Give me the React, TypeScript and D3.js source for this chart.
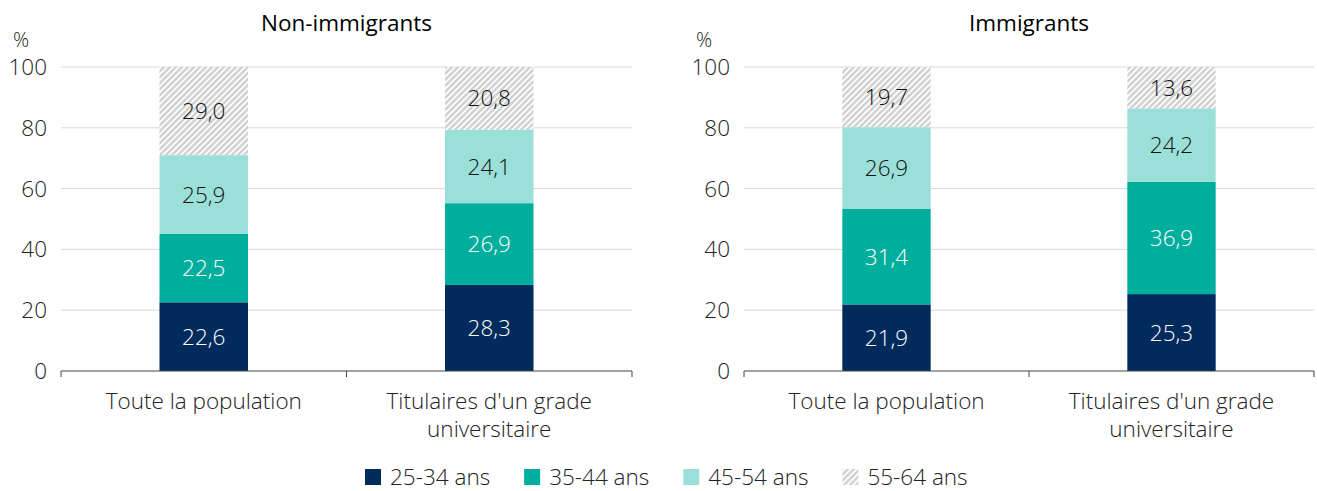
import { useRef, useEffect } from 'react';
import * as d3 from 'd3';

const categories = ['Toute la population', "Titulaires d'un grade universitaire"];
const ageGroups = ['25-34 ans', '35-44 ans', '45-54 ans', '55-64 ans'];
const panelTitles = ['Non-immigrants', 'Immigrants'];
// values per category, in age group order
const nonImmigrants = [
  [22.6, 22.5, 25.9, 29.0],
  [28.3, 26.9, 24.1, 20.8],
];
const immigrants = [
  [21.9, 31.4, 26.9, 19.7],
  [25.3, 36.9, 24.2, 13.6],
];
const yTicks = [0, 20, 40, 60, 80, 100];

const colors = ['#002b5c', '#00ae9d', '#9be0d8', 'url(#hatch)'];
const labelColors = ['#fff', '#fff', '#111', '#111'];
const FONT = "'Open Sans', 'Noto Sans', sans-serif";
const FS = 22.5;

export default function App() {
  const svgRef = useRef(null);
  const width = 1317, height = 491;

  useEffect(() => {
    const svg = d3.select(svgRef.current);
    svg.selectAll('*').remove();
    svg.attr('width', width).attr('height', height)
      .style('font-family', FONT).style('font-weight', 300);

    const defs = svg.append('defs');
    const pat = defs.append('pattern')
      .attr('id', 'hatch')
      .attr('patternUnits', 'userSpaceOnUse')
      .attr('width', 6).attr('height', 6);
    pat.append('rect').attr('width', 6).attr('height', 6).attr('fill', '#d2d2d2');
    pat.append('path')
      .attr('d', 'M-1,1 l2,-2 M0,6 l6,-6 M5,7 l2,-2')
      .attr('stroke', '#fff').attr('stroke-width', 1.6);

    const y = d3.scaleLinear().domain([0, 100]).range([371, 67]);
    const panels = [
      { title: panelTitles[0], data: nonImmigrants, x0: 61, x1: 632 },
      { title: panelTitles[1], data: immigrants, x0: 744, x1: 1314 },
    ];

    panels.forEach((p) => {
      const g = svg.append('g');
      const x = d3.scaleBand().domain(categories).range([p.x0, p.x1]).paddingInner(0.69).paddingOuter(0.345);

      // gridlines
      g.selectAll('line.grid')
        .data(yTicks.filter((t) => t > 0))
        .join('line')
        .attr('x1', p.x0).attr('x2', p.x1)
        .attr('y1', (d) => y(d)).attr('y2', (d) => y(d))
        .attr('stroke', '#d9d9d9').attr('stroke-width', 1);

      // y tick labels
      g.selectAll('text.ytick')
        .data(yTicks)
        .join('text')
        .attr('x', p.x0 - 14)
        .attr('y', (d) => y(d) + 8)
        .attr('text-anchor', 'end')
        .attr('font-size', FS)
        .attr('fill', '#222')
        .text((d) => d);

      g.append('text')
        .attr('x', p.x0 - 40).attr('y', 47)
        .attr('text-anchor', 'middle')
        .attr('font-size', 20).attr('fill', '#222')
        .text('%');

      g.append('text')
        .attr('x', (p.x0 + p.x1) / 2).attr('y', 31)
        .attr('text-anchor', 'middle')
        .attr('font-size', FS).attr('fill', '#000').attr('font-weight', 400)
        .text(p.title);

      // stacked bars
      p.data.forEach((vals, ci) => {
        const cat = categories[ci];
        let cum = 0;
        vals.forEach((v, ai) => {
          const y0 = cum, y1 = Math.min(cum + v, 100);
          cum += v;
          g.append('rect')
            .attr('x', x(cat)).attr('width', x.bandwidth())
            .attr('y', y(y1)).attr('height', y(y0) - y(y1))
            .attr('fill', colors[ai]);
          g.append('text')
            .attr('x', x(cat) + x.bandwidth() / 2)
            .attr('y', (y(y0) + y(y1)) / 2 + 8)
            .attr('text-anchor', 'middle')
            .attr('font-size', FS)
            .attr('fill', labelColors[ai])
            .text(d3.format('.1f')(v).replace('.', ','));
        });
      });

      // x axis
      const base = y(0);
      g.append('line')
        .attr('x1', p.x0).attr('x2', p.x1).attr('y1', base).attr('y2', base)
        .attr('stroke', '#444').attr('stroke-width', 1);
      const edges = [p.x0, (p.x0 + p.x1) / 2, p.x1];
      g.selectAll('line.xtick')
        .data(edges)
        .join('line')
        .attr('x1', (d) => d).attr('x2', (d) => d)
        .attr('y1', base).attr('y2', base + 6)
        .attr('stroke', '#444').attr('stroke-width', 1);

      categories.forEach((c) => {
        const words = c === categories[1] ? ["Titulaires d'un grade", 'universitaire'] : [c];
        const t = g.append('text')
          .attr('text-anchor', 'middle')
          .attr('font-size', FS).attr('fill', '#222');
        words.forEach((w, i) => {
          t.append('tspan')
            .attr('x', x(c) + x.bandwidth() / 2)
            .attr('y', 409 + i * 28)
            .text(w);
        });
      });
    });

    // legend
    const lg = svg.append('g');
    let lx = 365;
    ageGroups.forEach((a, i) => {
      lg.append('rect')
        .attr('x', lx).attr('y', 469).attr('width', 16).attr('height', 16)
        .attr('fill', colors[i]);
      const t = lg.append('text')
        .attr('x', lx + 25).attr('y', 485)
        .attr('font-size', FS).attr('fill', '#222')
        .text(a);
      const w = (t.node() as SVGTextElement).getComputedTextLength();
      lx += 25 + w + 34;
    });
  }, []);

  return (
    <div style={{ position: 'absolute', left: 0, top: 0 }}>
      <svg ref={svgRef} />
    </div>
  );
}
